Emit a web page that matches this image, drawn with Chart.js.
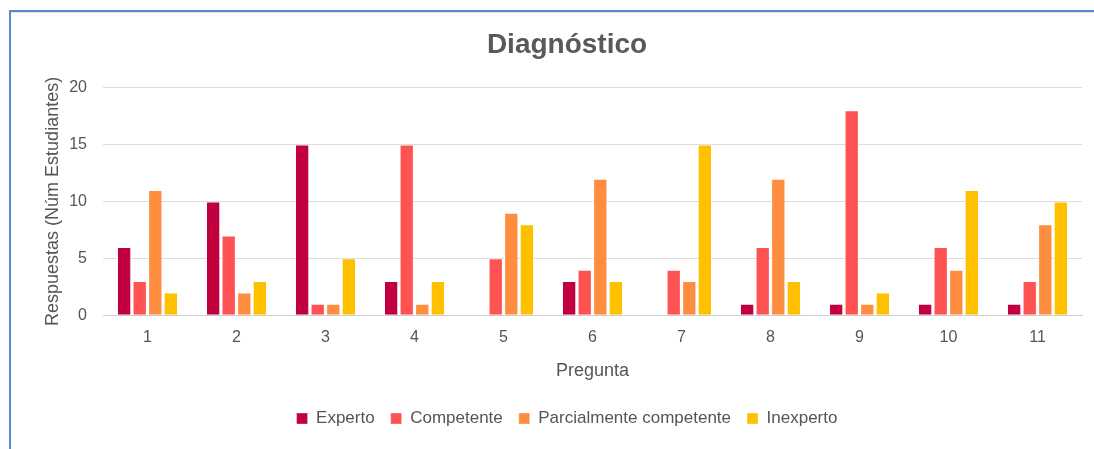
<!DOCTYPE html>
<html>
<head>
<meta charset="utf-8">
<script src="https://cdn.jsdelivr.net/npm/chart.js@4"></script>
<style>
  html, body { margin:0; padding:0; background:#fff; width:1094px; height:449px; overflow:hidden; }
  #frame { position:absolute; left:9px; top:10px; width:1200px; height:460px;
           border-top:2px solid #5b87d6; border-left:2px solid #5b87d6; }
  #inner { position:absolute; left:11px; top:12px; width:1200px; height:1px; background:#e4e4e4; }
  #wrap { position:absolute; left:10px; top:12px; width:1138px; height:437px; }
</style>
</head>
<body>
<div id="frame"></div>
<div id="inner"></div>
<div id="wrap"><canvas id="c"></canvas></div>
<script>
const categories = ["1","2","3","4","5","6","7","8","9","10","11"];
const experto     = [6,10,15,3,0,3,0,1,1,1,1];
const competente  = [3,7,1,15,5,4,4,6,18,6,3];
const parcial     = [11,2,1,1,9,12,3,12,1,4,8];
const inexperto   = [2,3,5,3,8,3,15,3,2,11,10];
const seriesNames = ["Experto","Competente","Parcialmente competente","Inexperto"];
const colors = ["#c0003f","#ff5252","#ff8d40","#ffc000"];

const FONT = "'Liberation Sans', Arial, Helvetica, sans-serif";
const vals = [experto, competente, parcial, inexperto];

new Chart(document.getElementById('c'), {
  type: 'bar',
  data: {
    labels: categories,
    datasets: seriesNames.map((n, i) => ({
      label: n,
      data: vals[i],
      backgroundColor: colors[i],
      borderColor: 'rgba(255,255,255,0.35)',
      borderWidth: 1,
      barPercentage: 0.92,
      categoryPercentage: 0.7
    }))
  },
  options: {
    responsive: true,
    maintainAspectRatio: false,
    animation: false,
    layout: { padding: { top: 10, left: 42, right: 66, bottom: 12 } },
    plugins: {
      title: {
        display: true, text: 'Diagnóstico', color: '#595959',
        font: { family: FONT, size: 28, weight: 'bold' },
        padding: { top: 6, bottom: 26 }
      },
      legend: {
        position: 'bottom',
        labels: {
          color: '#555', font: { family: FONT, size: 17 },
          boxWidth: 11, boxHeight: 11, padding: 16
        }
      },
      tooltip: { enabled: false }
    },
    scales: {
      x: {
        grid: { display: false, drawTicks: false },
        border: { display: true, color: '#cfcfcf', width: 1 },
        ticks: { color: '#555', font: { family: FONT, size: 16 }, padding: 13 },
        title: { display: true, text: 'Pregunta', color: '#555',
                 font: { family: FONT, size: 18 }, padding: { top: 0, bottom: 12 } }
      },
      y: {
        min: 0, max: 20,
        afterFit: (s) => { s.width = 51; },
        grid: { color: '#dcdcdc', drawTicks: false, lineWidth: 1 },
        border: { display: false },
        ticks: { stepSize: 5, color: '#555', font: { family: FONT, size: 16 }, padding: 16 },
        title: { display: true, text: 'Respuestas (Núm Estudiantes)', color: '#555',
                 font: { family: FONT, size: 18 }, padding: { top: -10, bottom: 2 } }
      }
    }
  }
});
</script>
</body>
</html>
